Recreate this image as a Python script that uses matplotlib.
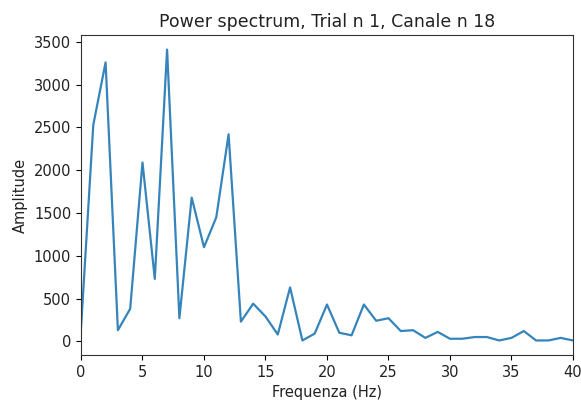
import numpy as np
import matplotlib.pyplot as plt

# power spectrum values, one per Hz (0..40)
freqs = np.arange(0, 41)
amplitude = [150, 2530, 3260, 130, 380, 2090, 730, 3410, 270, 1680,
             1100, 1450, 2420, 230, 440, 290, 80, 630, 10, 90,
             430, 100, 70, 430, 240, 270, 120, 130, 40, 110,
             30, 30, 50, 50, 10, 40, 120, 10, 10, 40, 10]

fig = plt.figure(figsize=(5.81, 4.03), dpi=100)
ax = fig.add_axes([0.1394, 0.1191, 0.8468, 0.794])

ax.plot(freqs, amplitude, color='#1f77b4', lw=1.6, alpha=0.9)
ax.set_xlim(0, 40)
ax.set_title('Power spectrum, Trial n 1, Canale n 18', fontsize=12.5, color='#222222')
ax.set_xlabel('Frequenza (Hz)', fontsize=10.5, color='#222222')
ax.set_ylabel('Amplitude', fontsize=10.5, color='#222222')
ax.tick_params(labelsize=10.5, labelcolor='#222222')
for s in ax.spines.values():
    s.set_color('#333333')

fig.savefig('out.png', dpi=100)
